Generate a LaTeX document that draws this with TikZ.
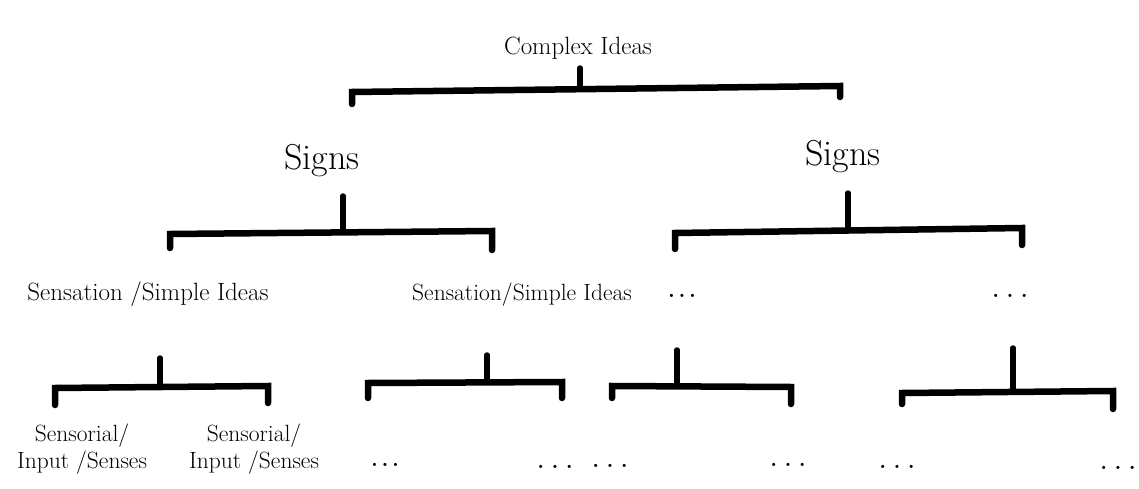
\documentclass[tikz,border=0pt]{standalone}
\usetikzlibrary{calc}
\begin{document}
\begin{tikzpicture}[x=1pt,y=-1pt,
  lbl/.style={inner sep=0pt, anchor=base, font=\fontsize{25}{29}\selectfont},
  signlbl/.style={inner sep=0pt, anchor=base, font=\fontsize{36}{40}\selectfont},
  leaflbl/.style={inner sep=0pt, align=center, font=\fontsize{23.5}{27}\selectfont},
  dotlbl/.style={inner sep=0pt, anchor=base, font=\bfseries\fontsize{22}{25}\selectfont},
  stem/.style={line width=5.5pt, line cap=round},
  bar/.style={line width=6.5pt, line cap=round, line join=miter}]
\useasboundingbox (0,0) rectangle (1139,489);

% level 0
\node[lbl] (c0) at (578,55) {Complex Ideas};
\coordinate (c0s) at (580,68); \coordinate (c0m) at (580,89);
\coordinate (c0l) at (352,92); \coordinate (c0r) at (840,86);
\coordinate (c0lb) at (352,104); \coordinate (c0rb) at (840,97);
\draw[stem] (c0s) -- (c0m);
\draw[bar] (c0lb) -- (c0l) -- (c0r) -- (c0rb);

% level 1
\node[signlbl] (s1) at (322,170) {Signs};
\node[signlbl] (s2) at (843,166) {Signs};

\coordinate (s1s) at (343,196); \coordinate (s1m) at (343,232);
\coordinate (s1l) at (170,234); \coordinate (s1r) at (492,231);
\coordinate (s1lb) at (170,248); \coordinate (s1rb) at (492,250);
\draw[stem] (s1s) -- (s1m);
\draw[bar] (s1lb) -- (s1l) -- (s1r) -- (s1rb);

\coordinate (s2s) at (848,193); \coordinate (s2m) at (848,230);
\coordinate (s2l) at (675,233); \coordinate (s2r) at (1022,228);
\coordinate (s2lb) at (675,249); \coordinate (s2rb) at (1022,245);
\draw[stem] (s2s) -- (s2m);
\draw[bar] (s2lb) -- (s2l) -- (s2r) -- (s2rb);

% level 2
\node[lbl] (a1) at (148,300) {Sensation /Simple Ideas};
\node[lbl, font=\fontsize{23.5}{27}\selectfont] (a2) at (522,300) {Sensation/Simple Ideas};
\node[dotlbl] (a3) at (682,297) {.\,.\,.};
\node[dotlbl] (a4) at (1010,297) {.\,\,.\,\,.};

\coordinate (b1s) at (160,358); \coordinate (b1m) at (160,387);
\coordinate (b1l) at (55,388); \coordinate (b1r) at (268,386);
\coordinate (b1lb) at (55,405); \coordinate (b1rb) at (268,403);
\draw[stem] (b1s) -- (b1m);
\draw[bar] (b1lb) -- (b1l) -- (b1r) -- (b1rb);

\coordinate (b2s) at (487,355); \coordinate (b2m) at (487,382);
\coordinate (b2l) at (368,383); \coordinate (b2r) at (562,382);
\coordinate (b2lb) at (368,398); \coordinate (b2rb) at (562,398);
\draw[stem] (b2s) -- (b2m);
\draw[bar] (b2lb) -- (b2l) -- (b2r) -- (b2rb);

\coordinate (b3s) at (677,350); \coordinate (b3m) at (677,386);
\coordinate (b3l) at (612,386); \coordinate (b3r) at (791,387);
\coordinate (b3lb) at (612,398); \coordinate (b3rb) at (791,404);
\draw[stem] (b3s) -- (b3m);
\draw[bar] (b3lb) -- (b3l) -- (b3r) -- (b3rb);

\coordinate (b4s) at (1013,348); \coordinate (b4m) at (1013,392);
\coordinate (b4l) at (902,393); \coordinate (b4r) at (1113,391);
\coordinate (b4lb) at (902,404); \coordinate (b4rb) at (1113,409);
\draw[stem] (b4s) -- (b4m);
\draw[bar] (b4lb) -- (b4l) -- (b4r) -- (b4rb);

% level 3
\node[leaflbl] (l1) at (82,449) {Sensorial/\\Input /Senses};
\node[leaflbl] (l2) at (254,449) {Sensorial/\\Input /Senses};
\node[dotlbl] (d1) at (385,466) {.\,.\,.};
\node[dotlbl] (d2) at (555,468) {.\,\,.\,\,.};
\node[dotlbl] (d3) at (610,467) {.\,\,.\,\,.};
\node[dotlbl] (d4) at (788,466) {.\,\,.\,\,.};
\node[dotlbl] (d5) at (897,468) {.\,\,.\,\,.};
\node[dotlbl] (d6) at (1118,469) {.\,\,.\,\,.};
\end{tikzpicture}
\end{document}
